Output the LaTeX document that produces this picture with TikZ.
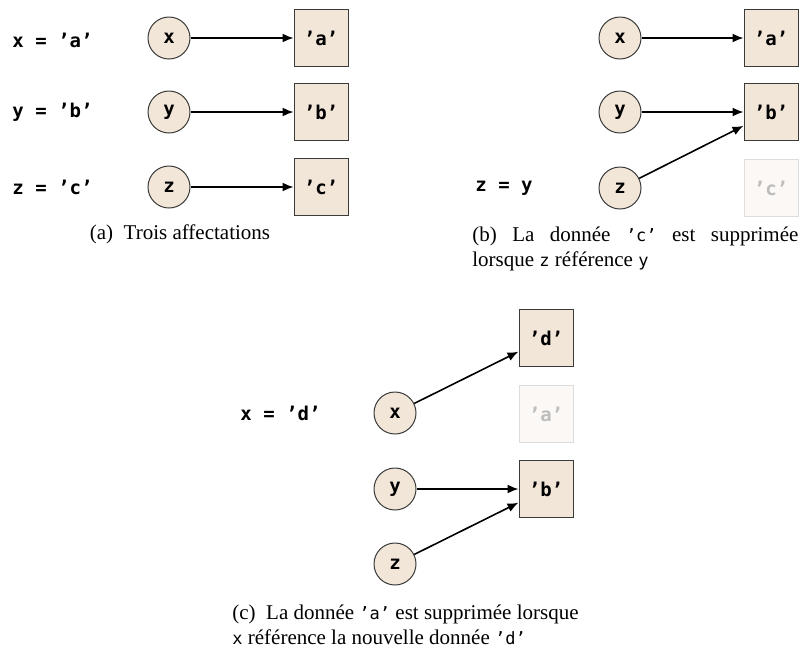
\documentclass[tikz,border=0pt]{standalone}
\usepackage{fontspec}
\setmainfont{Liberation Serif}
\setmonofont{DejaVu Sans Mono}
\usepackage{tikz}
\usetikzlibrary{arrows.meta}
\definecolor{databg}{HTML}{F2E6D9}
\definecolor{deadbg}{HTML}{FBF8F5}
\definecolor{deadfg}{HTML}{BDBDBD}
\definecolor{deadline}{HTML}{DDDDDD}
\definecolor{edge}{HTML}{3A3A3A}
\tikzset{
  var/.style={circle,draw=edge,fill=databg,line width=0.5pt,minimum size=21pt,inner sep=0pt,font=\fontsize{9.5}{11}\ttfamily\bfseries},
  datum/.style={rectangle,draw=edge,fill=databg,line width=0.5pt,minimum width=27pt,minimum height=28.5pt,inner sep=0pt,font=\fontsize{9.5}{11}\ttfamily\bfseries},
  dead/.style={datum,draw=deadline,fill=deadbg,text=deadfg},
  code/.style={font=\fontsize{9.5}{11}\ttfamily\bfseries,anchor=west,inner sep=0pt},
  ref/.style={line width=0.8pt,-{Latex[length=5.5pt,width=4.5pt]}},
  legend/.style={font=\fontsize{10.5}{12.5}\selectfont,inner sep=0pt}
}
\newcommand{\cc}[1]{{\fontsize{8.5}{10}\ttfamily #1}}
\begin{document}
\begin{tikzpicture}[x=0.5pt,y=-0.5pt]
  % Fix the page to the size of the reference
  \useasboundingbox (0,0) rectangle (808,649);

  % (a) three assignments
  \node[code] (ta) at (12,40) {x = ’a’};
  \node[code] (tb) at (12,112) {y = ’b’};
  \node[code] (tc) at (12,187) {z = ’c’};
  \node[var] (ax) at (169,38) {x};
  \node[var] (ay) at (169,112) {y};
  \node[var] (az) at (169,187) {z};
  \node[datum] (aa) at (321,38) {’a’};
  \node[datum] (ab) at (321,112) {’b’};
  \node[datum] (ac) at (321,187) {’c’};
  \draw[ref] (ax) -- (aa);
  \draw[ref] (ay) -- (ab);
  \draw[ref] (az) -- (ac);
  \node[legend] (capa) at (180,234) {(a)\enspace Trois affectations};

  % (b) z references y
  \node[code] (tz) at (475,188) {z = y};
  \node[var] (bx) at (620,38) {x};
  \node[var] (by) at (620,112) {y};
  \node[var] (bz) at (620,188) {z};
  \node[datum] (ba) at (771,38) {’a’};
  \node[datum] (bb) at (771,112) {’b’};
  \node[dead] (bc) at (771,188) {’c’};
  \draw[ref] (bx) -- (ba);
  \draw[ref] (by) -- (bb);
  \draw[ref] (bz) -- (bb);
  \node[legend,anchor=north west,align=left] (capb) at (472,226)
    {\makebox[163pt][s]{(b) La donnée \cc{’c’} est supprimée}\\lorsque \cc{z} référence \cc{y}};

  % (c) x gets a new value
  \node[code] (tx) at (240,413) {x = ’d’};
  \node[var] (cx) at (395,413) {x};
  \node[var] (cy) at (395,489) {y};
  \node[var] (cz) at (395,564) {z};
  \node[datum] (cd) at (546,338) {’d’};
  \node[dead] (ca) at (546,414) {’a’};
  \node[datum] (cb) at (546,489) {’b’};
  \draw[ref] (cx) -- (cd);
  \draw[ref] (cy) -- (cb);
  \draw[ref] (cz) -- (cb);
  \node[legend,anchor=north west,align=left] (capc) at (232,604)
    {(c)\enspace La donnée \cc{’a’} est supprimée lorsque\\\cc{x} référence la nouvelle donnée \cc{’d’}};
\end{tikzpicture}
\end{document}
